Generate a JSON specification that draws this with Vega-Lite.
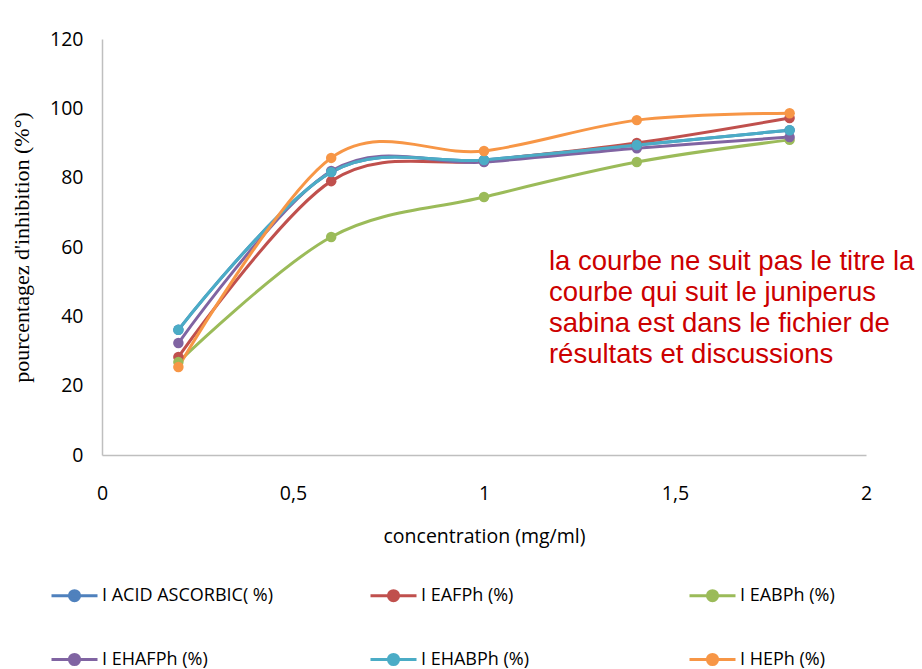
{
  "$schema": "https://vega.github.io/schema/vega-lite/v6.json",
  "autosize": "none",
  "width": 764,
  "height": 416,
  "padding": {"left": 102, "top": 39, "right": 56, "bottom": 214},
  "background": "white",
  "config": {"view": {"stroke": null}},
  "data": {"values": [
    {"serie": "I ACID ASCORBIC( %)", "c": 0.2, "v": 36.1},
    {"serie": "I ACID ASCORBIC( %)", "c": 0.6, "v": 81.6},
    {"serie": "I ACID ASCORBIC( %)", "c": 1.0, "v": 85.1},
    {"serie": "I ACID ASCORBIC( %)", "c": 1.4, "v": 89.4},
    {"serie": "I ACID ASCORBIC( %)", "c": 1.8, "v": 93.7},
    {"serie": "I EAFPh (%)", "c": 0.2, "v": 28.3},
    {"serie": "I EAFPh (%)", "c": 0.6, "v": 79.0},
    {"serie": "I EAFPh (%)", "c": 1.0, "v": 84.8},
    {"serie": "I EAFPh (%)", "c": 1.4, "v": 90.0},
    {"serie": "I EAFPh (%)", "c": 1.8, "v": 97.2},
    {"serie": "I EABPh (%)", "c": 0.2, "v": 26.8},
    {"serie": "I EABPh (%)", "c": 0.6, "v": 62.9},
    {"serie": "I EABPh (%)", "c": 1.0, "v": 74.4},
    {"serie": "I EABPh (%)", "c": 1.4, "v": 84.5},
    {"serie": "I EABPh (%)", "c": 1.8, "v": 90.9},
    {"serie": "I EHAFPh (%)", "c": 0.2, "v": 32.3},
    {"serie": "I EHAFPh (%)", "c": 0.6, "v": 81.9},
    {"serie": "I EHAFPh (%)", "c": 1.0, "v": 84.5},
    {"serie": "I EHAFPh (%)", "c": 1.4, "v": 88.5},
    {"serie": "I EHAFPh (%)", "c": 1.8, "v": 91.7},
    {"serie": "I EHABPh (%)", "c": 0.2, "v": 36.1},
    {"serie": "I EHABPh (%)", "c": 0.6, "v": 81.6},
    {"serie": "I EHABPh (%)", "c": 1.0, "v": 85.1},
    {"serie": "I EHABPh (%)", "c": 1.4, "v": 89.4},
    {"serie": "I EHABPh (%)", "c": 1.8, "v": 93.7},
    {"serie": "I HEPh (%)", "c": 0.2, "v": 25.4},
    {"serie": "I HEPh (%)", "c": 0.6, "v": 85.7},
    {"serie": "I HEPh (%)", "c": 1.0, "v": 87.7},
    {"serie": "I HEPh (%)", "c": 1.4, "v": 96.6},
    {"serie": "I HEPh (%)", "c": 1.8, "v": 98.6}
  ]},
  "encoding": {
    "x": {
      "field": "c", "type": "quantitative",
      "scale": {"domain": [0, 2], "nice": false, "zero": true},
      "axis": {
        "title": "concentration (mg/ml)",
        "titleFont": "Open Sans", "titleFontSize": 19.5, "titleFontWeight": "normal", "titleColor": "#000000",
        "titlePadding": 25,
        "values": [0, 0.5, 1, 1.5, 2],
        "labelExpr": "replace(format(datum.value, ''), '.', ',')",
        "labelFont": "Open Sans", "labelFontSize": 19.5, "labelColor": "#000000", "labelPadding": 29,
        "labelFlush": false,
        "ticks": false, "grid": false, "domainColor": "#BFBFBF", "domainWidth": 1.5
      }
    },
    "y": {
      "field": "v", "type": "quantitative",
      "scale": {"domain": [0, 120], "nice": false},
      "axis": {
        "title": "pourcentagez d'inhibition (%°)",
        "titleFont": "Liberation Serif", "titleFontSize": 22, "titleFontWeight": "normal", "titleColor": "#000000",
        "titlePadding": 16,
        "values": [0, 20, 40, 60, 80, 100, 120],
        "labelFont": "Open Sans", "labelFontSize": 19.5, "labelColor": "#000000", "labelPadding": 19,
        "ticks": false, "grid": false, "domainColor": "#BFBFBF", "domainWidth": 1.5
      }
    },
    "color": {
      "field": "serie", "type": "nominal",
      "sort": ["I ACID ASCORBIC( %)", "I EAFPh (%)", "I EABPh (%)", "I EHAFPh (%)", "I EHABPh (%)", "I HEPh (%)"],
      "scale": {
        "domain": ["I ACID ASCORBIC( %)", "I EAFPh (%)", "I EABPh (%)", "I EHAFPh (%)", "I EHABPh (%)", "I HEPh (%)"],
        "range": ["#4F81BD", "#C0504D", "#9BBB59", "#8064A2", "#4BACC6", "#F79646"]
      },
      "legend": {
        "title": null,
        "orient": "none",
        "legendX": -52,
        "legendY": 532,
        "direction": "horizontal",
        "columns": 3,
        "gridAlign": "all",
        "columnPadding": 90,
        "rowPadding": 28,
        "symbolType": "M -1 0 L 1 0 M -0.22 0 A 0.22 0.22 0 1 1 0.22 0 A 0.22 0.22 0 1 1 -0.22 0 Z",
        "symbolSize": 2116,
        "symbolStrokeWidth": 3,
        "symbolOffset": 0,
        "labelFont": "Open Sans", "labelFontSize": 18, "labelColor": "#000000",
        "labelOffset": 3, "labelLimit": 300,
        "encode": {"symbols": {"update": {"fill": {"scale": "color", "field": "value"}, "fillOpacity": {"value": 1}}}}
      }
    },
    "detail": {"field": "serie"}
  },
  "layer": [
    {"mark": {"type": "line", "interpolate": "cardinal", "strokeWidth": 3}},
    {"mark": {"type": "point", "filled": true, "size": 110, "opacity": 1}},
    {
      "data": {"values": [{"t": "la courbe ne suit pas le titre la\ncourbe qui suit le juniperus\nsabina est dans le fichier de\nrésultats et discussions", "x": 1.17, "y": 59.8}]},
      "mark": {"type": "text", "align": "left", "baseline": "top", "lineBreak": "\n", "font": "Liberation Sans", "fontSize": 27.5, "lineHeight": 31, "color": "#CC0000"},
      "encoding": {
        "x": {"field": "x", "type": "quantitative"},
        "y": {"field": "y", "type": "quantitative"},
        "text": {"field": "t"},
        "color": {"value": "#CC0000"},
        "detail": null
      }
    }
  ]
}
